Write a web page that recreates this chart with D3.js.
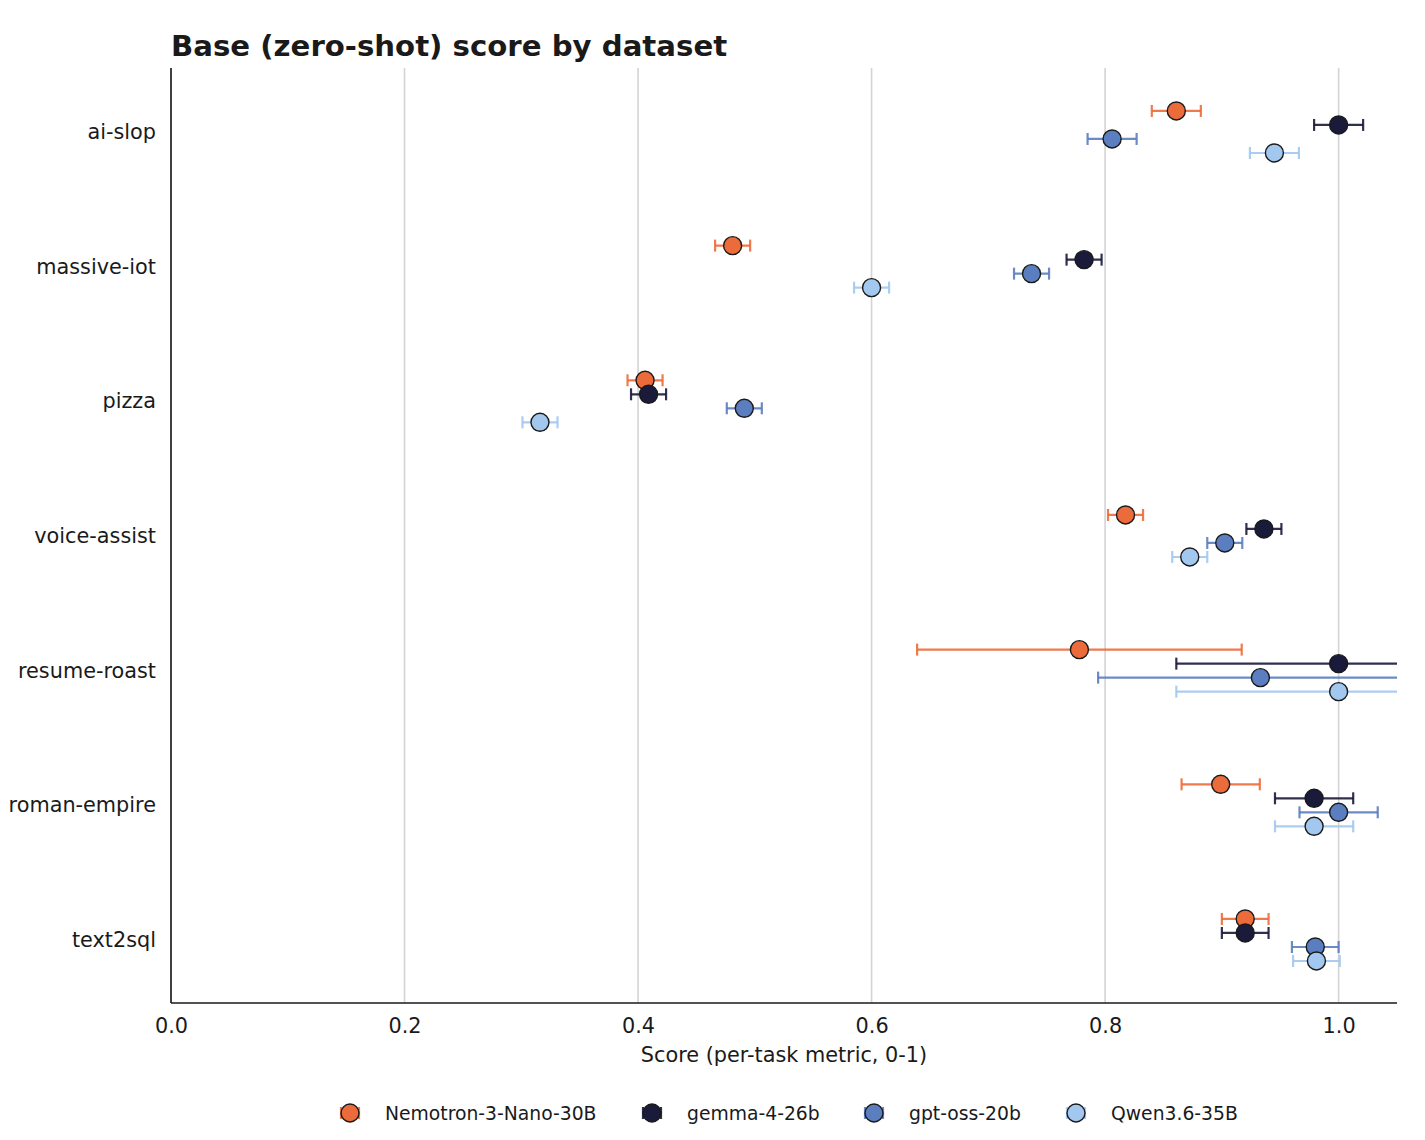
<!DOCTYPE html>
<html>
<head>
<meta charset="utf-8">
<script src="https://cdn.jsdelivr.net/npm/d3@7"></script>
<style>
  body { margin: 0; background: #fff; }
  svg { display: block; font-family: "DejaVu Sans", sans-serif; }
</style>
</head>
<body>
<svg id="chart" width="1425" height="1140"></svg>
<script>
const categories = ["ai-slop", "massive-iot", "pizza", "voice-assist", "resume-roast", "roman-empire", "text2sql"];
const seriesNames = ["Nemotron-3-Nano-30B", "gemma-4-26b", "gpt-oss-20b", "Qwen3.6-35B"];
const seriesColors = ["#EC6B3B", "#1A1A3B", "#5B7EC0", "#A2C8EF"];
const nemotronScore = [0.861, 0.481, 0.406, 0.8175, 0.778, 0.899, 0.920];
const nemotronErr   = [0.021, 0.015, 0.015, 0.015, 0.139, 0.0335, 0.020];
const gemmaScore    = [1.000, 0.782, 0.409, 0.936, 1.000, 0.979, 0.920];
const gemmaErr      = [0.021, 0.015, 0.015, 0.015, 0.139, 0.0335, 0.020];
const gptScore      = [0.806, 0.737, 0.491, 0.9025, 0.933, 1.000, 0.980];
const gptErr        = [0.021, 0.015, 0.015, 0.015, 0.139, 0.0335, 0.020];
const qwenScore     = [0.945, 0.600, 0.316, 0.8725, 1.000, 0.979, 0.981];
const qwenErr       = [0.021, 0.015, 0.015, 0.015, 0.139, 0.0335, 0.020];
const xTicks = [0.0, 0.2, 0.4, 0.6, 0.8, 1.0];
const seriesOffsets = [-0.156, -0.052, 0.052, 0.156];

const scores = [nemotronScore, gemmaScore, gptScore, qwenScore];
const errs = [nemotronErr, gemmaErr, gptErr, qwenErr];

(function () {
const svg = d3.select("#chart");
const pL = 171, pR = 1397, pT = 68, pB = 1003;

const x = d3.scaleLinear().domain([0, 1.05]).range([pL, pR]);
const y = d3.scaleLinear().domain([-0.475, 6.468]).range([pT, pB]);

svg.append("defs").append("clipPath").attr("id", "plotclip")
  .append("rect").attr("x", pL).attr("y", pT).attr("width", pR - pL).attr("height", pB - pT);

// grid
svg.append("g").selectAll("line").data(xTicks).join("line")
  .attr("x1", d => x(d)).attr("x2", d => x(d))
  .attr("y1", pT).attr("y2", pB)
  .attr("stroke", "#d4d4d4").attr("stroke-width", 1.6);

// data
const plot = svg.append("g").attr("clip-path", "url(#plotclip)");
seriesNames.forEach((name, s) => {
  const g = plot.append("g");
  const pts = categories.map((c, i) => ({ v: scores[s][i], e: errs[s][i], yy: y(i + seriesOffsets[s]) }));
  const eb = g.append("g").attr("stroke", seriesColors[s]).attr("stroke-opacity", 0.9).attr("stroke-width", 2.2);
  pts.forEach(p => {
    eb.append("line").attr("x1", x(p.v - p.e)).attr("x2", x(p.v + p.e)).attr("y1", p.yy).attr("y2", p.yy);
    [p.v - p.e, p.v + p.e].forEach(v => {
      eb.append("line").attr("x1", x(v)).attr("x2", x(v)).attr("y1", p.yy - 6).attr("y2", p.yy + 6);
    });
  });
  g.selectAll("circle").data(pts).join("circle")
    .attr("cx", d => x(d.v)).attr("cy", d => d.yy).attr("r", 9)
    .attr("fill", seriesColors[s]).attr("stroke", "#1a1a1a").attr("stroke-width", 1.4);
});

// axes (tick marks hidden, label offset kept)
const xAxis = d3.axisBottom(x).tickValues(xTicks).tickFormat(d3.format(".1f")).tickSize(0).tickPadding(15);
const gx = svg.append("g").attr("transform", `translate(0,${pB})`).call(xAxis);
gx.select(".domain").attr("d", `M${pL},0H${pR}`).attr("stroke", "#1a1a1a").attr("stroke-width", 1.6);
gx.selectAll(".tick line").remove();
gx.selectAll(".tick text").attr("font-size", "20.8px").attr("fill", "#1a1a1a").attr("font-family", "DejaVu Sans");

const yAxis = d3.axisLeft(y).tickValues(d3.range(categories.length)).tickFormat(i => categories[i]).tickSize(0).tickPadding(15);
const gy = svg.append("g").attr("transform", `translate(${pL},0)`).call(yAxis);
gy.select(".domain").attr("d", `M0,${pT}V${pB}`).attr("stroke", "#1a1a1a").attr("stroke-width", 1.6);
gy.selectAll(".tick line").remove();
gy.selectAll(".tick text").attr("font-size", "20.8px").attr("fill", "#1a1a1a").attr("font-family", "DejaVu Sans");

// title
svg.append("text").attr("x", pL).attr("y", 56)
  .attr("font-size", "29.2px").attr("font-weight", "bold").attr("fill", "#1a1a1a")
  .text("Base (zero-shot) score by dataset");

// x label
svg.append("text").attr("x", (pL + pR) / 2).attr("y", 1062)
  .attr("text-anchor", "middle").attr("font-size", "20.8px").attr("fill", "#1a1a1a")
  .text("Score (per-task metric, 0-1)");

// legend
const legendX = [350, 652, 874, 1076];
const ly = 1113;
const lg = svg.append("g");
seriesNames.forEach((name, s) => {
  const cx = legendX[s];
  const eb = lg.append("g").attr("stroke", seriesColors[s]).attr("stroke-opacity", 0.9).attr("stroke-width", 2.2);
  eb.append("line").attr("x1", cx - 9).attr("x2", cx + 9).attr("y1", ly).attr("y2", ly);
  [cx - 9, cx + 9].forEach(v => eb.append("line").attr("x1", v).attr("x2", v).attr("y1", ly - 6).attr("y2", ly + 6));
  lg.append("circle").attr("cx", cx).attr("cy", ly).attr("r", 9)
    .attr("fill", seriesColors[s]).attr("stroke", "#1a1a1a").attr("stroke-width", 1.4);
  lg.append("text").attr("x", cx + 35).attr("y", ly).attr("dy", "0.35em")
    .attr("font-size", "18.75px").attr("fill", "#1a1a1a").text(name);
});
})();
</script>
</body>
</html>
